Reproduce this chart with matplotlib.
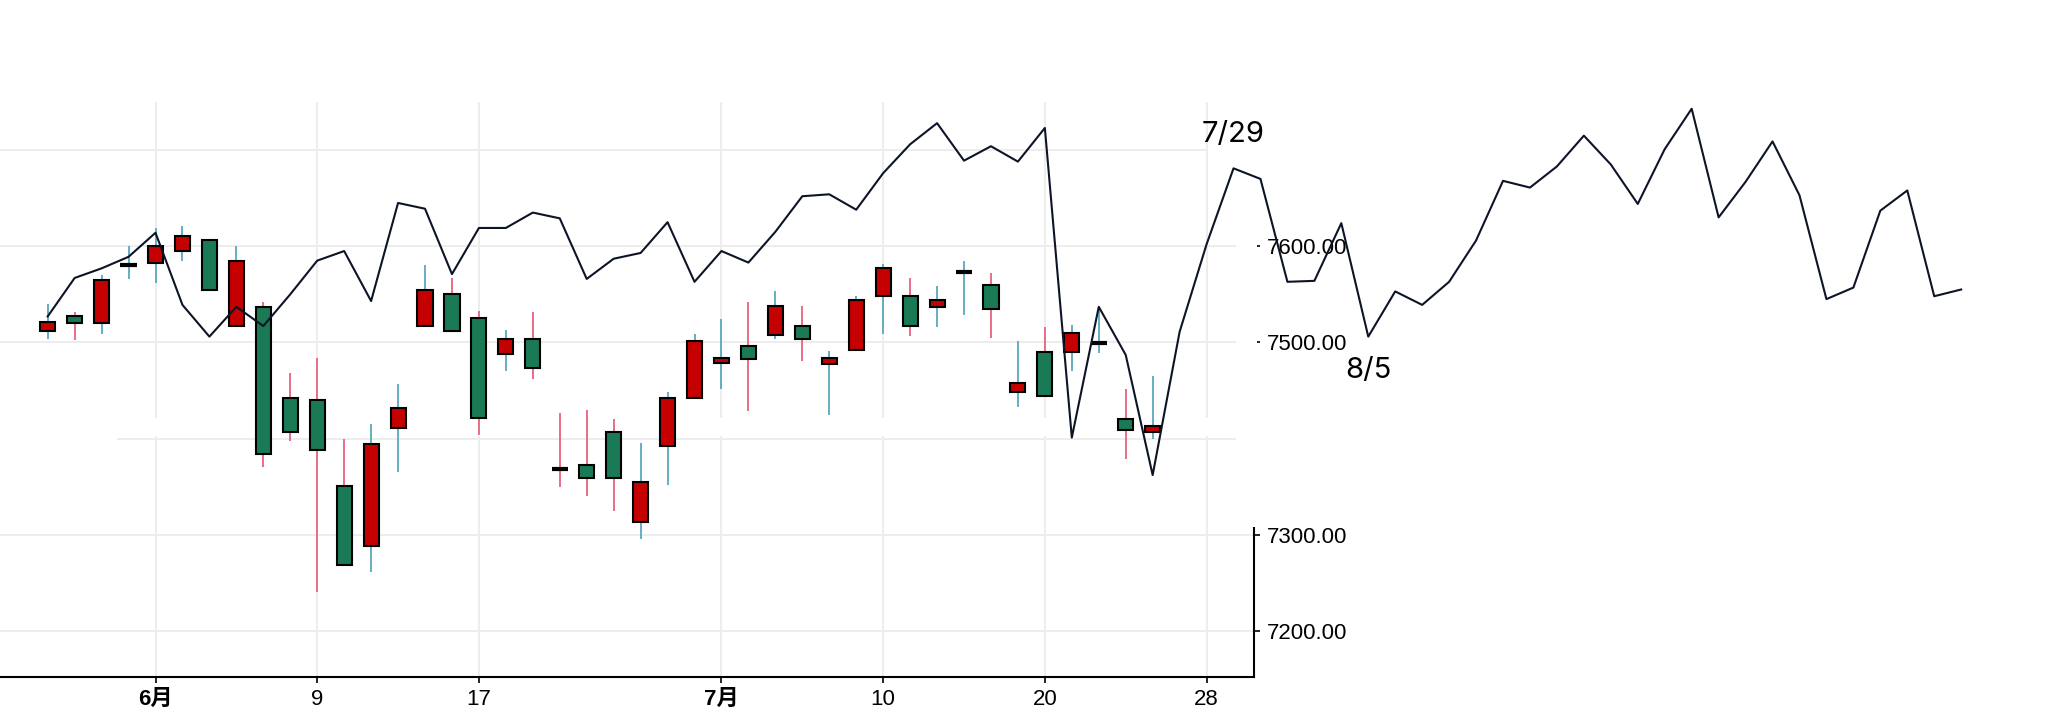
import numpy as np
import matplotlib
matplotlib.use('Agg')
import matplotlib.pyplot as plt
from matplotlib.patches import Rectangle

plt.rcParams['font.family'] = ['Liberation Sans', 'Noto Sans CJK SC', 'DejaVu Sans']

# candle data (index 1..42), open / high / low / close
c_idx = np.arange(1, 43)
c_open = [7512, 7527, 7520, 7580, 7583, 7595, 7606, 7517, 7537, 7442,
          7440, 7351, 7288, 7411, 7517, 7550, 7525, 7488, 7503, 7368.4,
          7372, 7407, 7313, 7392, 7442, 7479, 7496, 7508, 7517, 7477,
          7492, 7548, 7548, 7537, 7573, 7560, 7448, 7490, 7490, 7499,
          7420, 7407]
c_close = [7521, 7520, 7565, 7580.4, 7600, 7611, 7554, 7585, 7384, 7407,
           7388, 7268, 7394, 7432, 7554, 7512, 7421, 7503, 7473, 7368,
           7359, 7359, 7355, 7442, 7501, 7484, 7483, 7538, 7504, 7484,
           7544, 7577, 7517, 7544, 7573.4, 7535, 7458, 7444, 7510, 7499.4,
           7409, 7413]
c_high = [7540, 7532, 7570, 7600, 7619, 7621, 7606, 7600, 7542, 7468,
          7484, 7400, 7415, 7457, 7580, 7567, 7533, 7513, 7532, 7427,
          7430, 7420, 7395, 7448, 7509, 7524, 7542, 7553, 7538, 7491,
          7548, 7581, 7567, 7559, 7585, 7572, 7501, 7516, 7518, 7537,
          7451, 7465]
c_low = [7504, 7502, 7509, 7566, 7562, 7585, 7554, 7517, 7370, 7397,
         7240, 7267, 7261, 7365, 7517, 7512, 7404, 7470, 7462, 7350,
         7340, 7325, 7296, 7352, 7442, 7451, 7429, 7503, 7481, 7424,
         7492, 7509, 7507, 7516, 7528, 7505, 7433, 7444, 7470, 7489,
         7379, 7400]

# overlay line (index 1..72)
line_idx = np.arange(1, 73)
line_vals = [7527, 7567, 7577, 7589, 7614, 7539, 7506, 7537, 7517, 7550,
             7585, 7595, 7543, 7645, 7639, 7571, 7619, 7619, 7635, 7629,
             7566, 7587, 7593, 7625, 7563, 7595, 7583, 7615, 7652, 7654,
             7638, 7676, 7706, 7728, 7689, 7704, 7688, 7723, 7401, 7537,
             7487, 7362, 7511, 7602, 7681, 7670, 7563, 7564, 7624, 7506,
             7553, 7539, 7563, 7606, 7668, 7661, 7683, 7715, 7685, 7644,
             7701, 7743, 7630, 7667, 7709, 7653, 7545, 7557, 7637, 7658,
             7548, 7555]

tick_pos = [5, 11, 17, 26, 32, 38, 44]
tick_labels = ['6月', '9', '17', '7月', '10', '20', '28']
ytick_vals = [7200, 7300, 7500, 7600]
grid_vals = [7200, 7300, 7400, 7500, 7600, 7700]

notes = [(45, 7708, '7/29'), (50, 7463, '8/5')]

W, H = 2049, 709
fig = plt.figure(figsize=(W / 100, H / 100), dpi=100)
ax = fig.add_axes([0, 1 - 677 / H, 1254 / W, (677 - 102) / H])
ax.set_xlim(-0.77, 45.76)
ax.set_ylim(7152, 7750)

grid_c = '#ededed'
for g in grid_vals:
    ax.axhline(g, color=grid_c, lw=1.4, zorder=0.5)
for t in tick_pos:
    ax.axvline(t, color=grid_c, lw=1.4, zorder=0.5)

# white band that hides the grid around 7410
ax.axhspan(7403, 7421, color='white', lw=0, zorder=0.8)
ax.add_patch(Rectangle((0, 1 - 441 / H), 117 / W, 6 / H, transform=fig.transFigure,
                       color='white', lw=0, zorder=0.8, clip_on=False))
# white patch next to the upper part of the right axis
ax.add_patch(Rectangle((1236 / W, 1 - 527 / H), 21 / W, (527 - 140) / H,
                       transform=fig.transFigure, color='white', lw=0,
                       zorder=2.7, clip_on=False))
ax.add_patch(Rectangle((1208 / W, 1 - 156 / H), 30 / W, 14 / H,
                       transform=fig.transFigure, color='white', lw=0,
                       zorder=2.7, clip_on=False))

up_body, dn_body = '#c40000', '#1a7a56'
up_wick, dn_wick = '#5aa8bd', '#e8627f'
for i, o, h, l, c in zip(c_idx, c_open, c_high, c_low, c_close):
    up = c >= o
    ax.vlines(i, l, h, color=up_wick if up else dn_wick, lw=1.3, zorder=2)
    if abs(c - o) < 1:
        ax.hlines(o, i - 0.3, i + 0.3, color='black', lw=3, zorder=3)
    else:
        ax.bar(i, abs(c - o), bottom=min(o, c), width=0.56,
               color=up_body if up else dn_body, edgecolor='black', lw=1.5, zorder=3)

ax.plot(line_idx, line_vals, color='#0e1428', lw=1.5, zorder=4, clip_on=False)

for x, y, s in notes:
    ax.text(x, y, s, ha='center', va='baseline', fontsize=21,
            family=['Inter', 'DejaVu Sans'], color='black', zorder=5)

for s in ['left', 'top']:
    ax.spines[s].set_visible(False)
ax.spines['bottom'].set_linewidth(1.5)
ax.spines['right'].set_linewidth(1.5)
ax.spines['right'].set_bounds(7152, 7307)

ax.yaxis.tick_right()
ax.set_yticks(ytick_vals)
ax.set_yticklabels([f'{v:.2f}' for v in ytick_vals])
ax.set_xticks(tick_pos)
ax.set_xticklabels(tick_labels)
for lab in ax.get_xticklabels():
    if '月' in lab.get_text():
        lab.set_fontweight('bold')
ax.tick_params(axis='both', direction='out', length=4.5, width=1.2, labelsize=16)
ax.tick_params(axis='y', pad=5)
ax.tick_params(axis='x', pad=4)

fig.savefig('out.png', dpi=100)
